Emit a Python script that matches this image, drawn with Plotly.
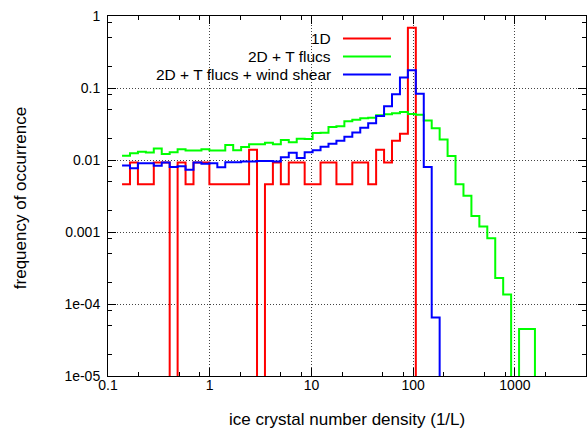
import plotly.graph_objects as go

# histogram binning (log-spaced bins)
BIN_START = 0.1374
BIN_RATIO = 1.1969

red_1d = [0.0046, 0.0092, 0.0046, 0.0046, 0.0092, 0.0092, 0, 0.0092, 0.0046, 0.0092,
          0.0092, 0.0046, 0.0046, 0.0046, 0.0046, 0.0046, 0.0139, 0, 0.0046, 0.0092,
          0.0046, 0.0092, 0.0092, 0.0046, 0.0046, 0.0092, 0.0092, 0.0046, 0.0046, 0.0092,
          0.0092, 0.0046, 0.0139, 0.0092, 0.0185, 0.0232, 0.687, 0]

green_2d = [0.0115, 0.0124, 0.0130, 0.0127, 0.0145, 0.0121, 0.0128, 0.0141, 0.0135, 0.0135,
            0.0141, 0.0135, 0.0135, 0.0162, 0.0137, 0.0152, 0.0165, 0.0165, 0.0174, 0.0165,
            0.0190, 0.0176, 0.0198, 0.0196, 0.0237, 0.0239, 0.0288, 0.0295, 0.0345, 0.0362,
            0.0380, 0.0386, 0.0420, 0.0432, 0.0445, 0.0465, 0.0435, 0.0425, 0.0355, 0.0275,
            0.0192, 0.0114, 0.0046, 0.0032, 0.00167, 0.00119, 0.00082, 0.00023, 0.000136, 0,
            0.000045, 0.000045, 0]

blue_2d_ws = [0.0084, 0.0077, 0.0090, 0.0090, 0.0083, 0.0092, 0.0080, 0.0082, 0.0073, 0.0092,
              0.0089, 0.0090, 0.0079, 0.0093, 0.0093, 0.0095, 0.0095, 0.0097, 0.0097, 0.0095,
              0.0109, 0.0126, 0.0107, 0.0128, 0.0137, 0.0153, 0.0168, 0.0185, 0.0210, 0.0240,
              0.0280, 0.0325, 0.0410, 0.0560, 0.0817, 0.140, 0.176, 0.0835, 0.0080, 0.000065, 0]

series_names = ["1D", "2D + T flucs", "2D + T flucs + wind shear"]
series_colors = ["#ff0000", "#00ff00", "#0000ff"]

x_tickvals = [0.1, 1, 10, 100, 1000]
x_ticktext = ["0.1", "1", "10", "100", "1000"]
y_tickvals = [1, 0.1, 0.01, 0.001, 1e-4, 1e-5]
y_ticktext = ["1", "0.1", "0.01", "0.001", "1e-04", "1e-05"]

FLOOR = 1e-9  # zero counts drawn below the visible range


def steps(values):
    edges = [BIN_START * BIN_RATIO ** k for k in range(len(values) + 1)]
    ys = [v if v > 0 else FLOOR for v in values]
    return edges, ys + [ys[-1]]


fig = go.Figure()
for vals, name, col in zip([red_1d, green_2d, blue_2d_ws], series_names, series_colors):
    xs, ys = steps(vals)
    fig.add_trace(go.Scatter(x=xs, y=ys, mode="lines", name=name,
                             line=dict(color=col, width=2, shape="hv")))

minor_x = [m * d for d in [0.1, 1, 10, 100, 1000] for m in (2, 5, 8)]
minor_x = [v for v in minor_x if v < 5000]
minor_y = [m * d for d in [1e-5, 1e-4, 1e-3, 1e-2, 1e-1] for m in (2, 5, 8)]

FONT = "Liberation Sans, Arial, sans-serif"

fig.update_xaxes(type="log", range=[-1, 3.69897], tickvals=x_tickvals, ticktext=x_ticktext,
                 ticks="inside", ticklen=8, tickwidth=1, tickcolor="black",
                 showline=True, linecolor="black", linewidth=1, mirror="allticks",
                 showgrid=True, gridcolor="#444", griddash="1px,2px", gridwidth=1,
                 zeroline=False, tickfont=dict(family=FONT, size=14, color="black"),
                 minor=dict(tickvals=minor_x, ticks="inside", ticklen=4, tickwidth=1,
                            tickcolor="black", showgrid=False),
                 ticklabelstandoff=-4)
fig.update_yaxes(type="log", range=[-5, 0], tickvals=y_tickvals, ticktext=y_ticktext,
                 ticks="inside", ticklen=8, tickwidth=1, tickcolor="black",
                 showline=True, linecolor="black", linewidth=1, mirror="allticks",
                 showgrid=True, gridcolor="#444", griddash="1px,2px", gridwidth=1,
                 zeroline=False, tickfont=dict(family=FONT, size=14, color="black"),
                 minor=dict(tickvals=minor_y, ticks="inside", ticklen=4, tickwidth=1,
                            tickcolor="black", showgrid=False),
                 ticklabelstandoff=4)

# legend (gnuplot style: text right-aligned, line sample on the right)
leg_y = [0.9375, 0.8875, 0.8375]
for name, col, yy in zip(series_names, series_colors, leg_y):
    fig.add_annotation(xref="paper", yref="paper", x=0.468, y=yy, text=name,
                       showarrow=False, xanchor="right", yanchor="middle",
                       borderpad=0,
                       font=dict(family=FONT, size=15.5, color="black"))
    fig.add_shape(type="line", xref="paper", yref="paper", x0=0.4916, x1=0.592,
                  y0=yy, y1=yy, line=dict(color=col, width=2))

fig.add_annotation(xref="paper", yref="paper", x=0.5, y=-0.122,
                   text="ice crystal number density (1/L)", showarrow=False,
                   xanchor="center", yanchor="middle",
                   font=dict(family=FONT, size=17, color="black"))
fig.add_annotation(xref="paper", yref="paper", x=-0.184, y=0.494,
                   text="frequency of occurrence", showarrow=False, textangle=-90,
                   xanchor="center", yanchor="middle",
                   font=dict(family=FONT, size=17, color="black"))

fig.update_layout(width=587, height=428, showlegend=False,
                  margin=dict(l=108, r=1, t=16, b=52),
                  paper_bgcolor="white", plot_bgcolor="white")

fig.write_html("out.html")
